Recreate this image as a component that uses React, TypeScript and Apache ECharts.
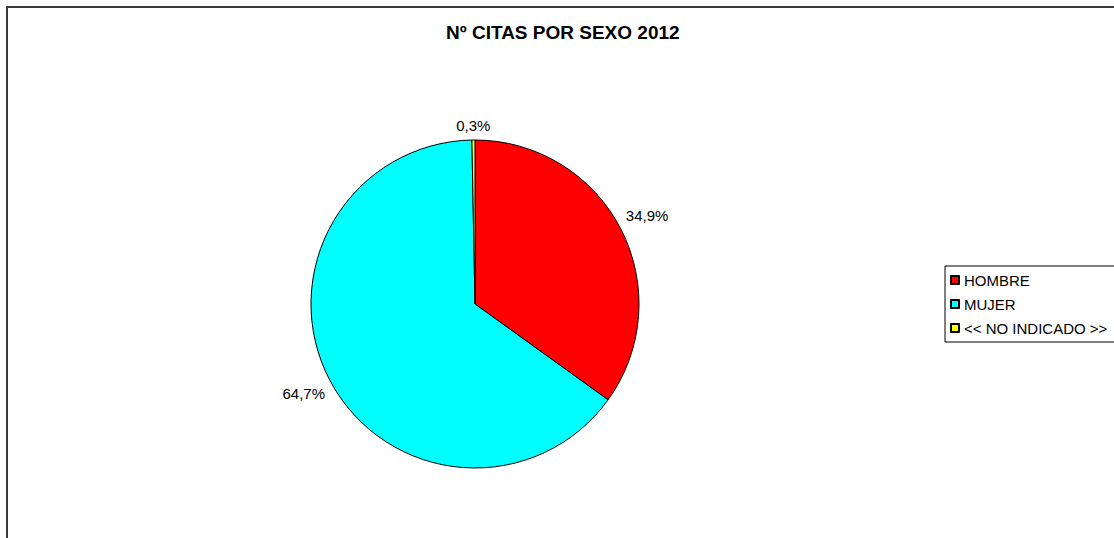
import React, { useEffect, useRef } from "react";
import * as echarts from "echarts";

const TITLE = "Nº CITAS POR SEXO 2012";
const categories = ["HOMBRE", "MUJER", "<< NO INDICADO >>"];
const values = [34.9, 64.7, 0.3];
const colors = ["#FF0000", "#00FFFF", "#FFFF00"];

const CX = 475;
const CY = 304;
const R = 164;
const GAP = 7;

const fmt = (v: number) => v.toFixed(1).replace(".", ",") + "%";

export default function App() {
  const ref = useRef<HTMLDivElement>(null);
  useEffect(() => {
    if (!ref.current) return;
    const chart = echarts.init(ref.current, undefined, { renderer: "svg" });
    const total = values.reduce((a, b) => a + b, 0);
    const midAngles: number[] = [];
    let acc = 0;
    values.forEach((v) => {
      midAngles.push(((acc + v / 2) / total) * Math.PI * 2);
      acc += v;
    });
    const font = 'Arial, "Liberation Sans", sans-serif';
    chart.setOption({
      animation: false,
      backgroundColor: "#ffffff",
      title: {
        text: TITLE,
        left: 446,
        top: 23,
        padding: 0,
        textStyle: { fontSize: 19, fontWeight: "bold", color: "#000", fontFamily: font },
      },
      legend: {
        orient: "vertical",
        left: 945,
        top: 266,
        padding: [6, 200, 6, 5],
        borderColor: "#000",
        borderWidth: 1,
        itemWidth: 8,
        itemHeight: 8,
        itemGap: 8,
        icon: "rect",
        data: categories,
        textStyle: { fontSize: 15, color: "#000", fontFamily: font, lineHeight: 16 },
      },
      graphic: [
        {
          type: "rect",
          shape: { x: 7, y: 7, width: 1300, height: 700 },
          style: { fill: "none", stroke: "#3a3a3a", lineWidth: 2 },
          silent: true,
          z: 0,
        },
      ],
      series: [
        {
          type: "pie",
          center: [CX, CY],
          radius: R,
          startAngle: 90,
          clockwise: true,
          avoidLabelOverlap: false,
          itemStyle: { borderColor: "#000", borderWidth: 1 },
          label: {
            show: true,
            position: "outside",
            fontSize: 15,
            color: "#000",
            fontFamily: font,
            formatter: (p: any) => fmt(p.value),
          },
          labelLine: { show: false },
          labelLayout: (params: any) => {
            const th = midAngles[params.dataIndex];
            const dx = Math.sin(th);
            const dy = -Math.cos(th);
            const w = params.labelRect.width;
            const h = params.labelRect.height;
            const D = R + GAP + Math.abs(dx) * (w / 2) + Math.abs(dy) * (h / 2);
            return {
              x: CX + dx * D,
              y: CY + dy * D,
              align: "center",
              verticalAlign: "middle",
            };
          },
          emphasis: { disabled: true },
          data: categories.map((c, i) => ({
            name: c,
            value: values[i],
            itemStyle: { color: colors[i] },
          })),
        },
      ],
    });
    return () => chart.dispose();
  }, []);
  return (
    <div
      ref={ref}
      style={{ width: 1114, height: 538, position: "absolute", left: 0, top: 0 }}
    />
  );
}
